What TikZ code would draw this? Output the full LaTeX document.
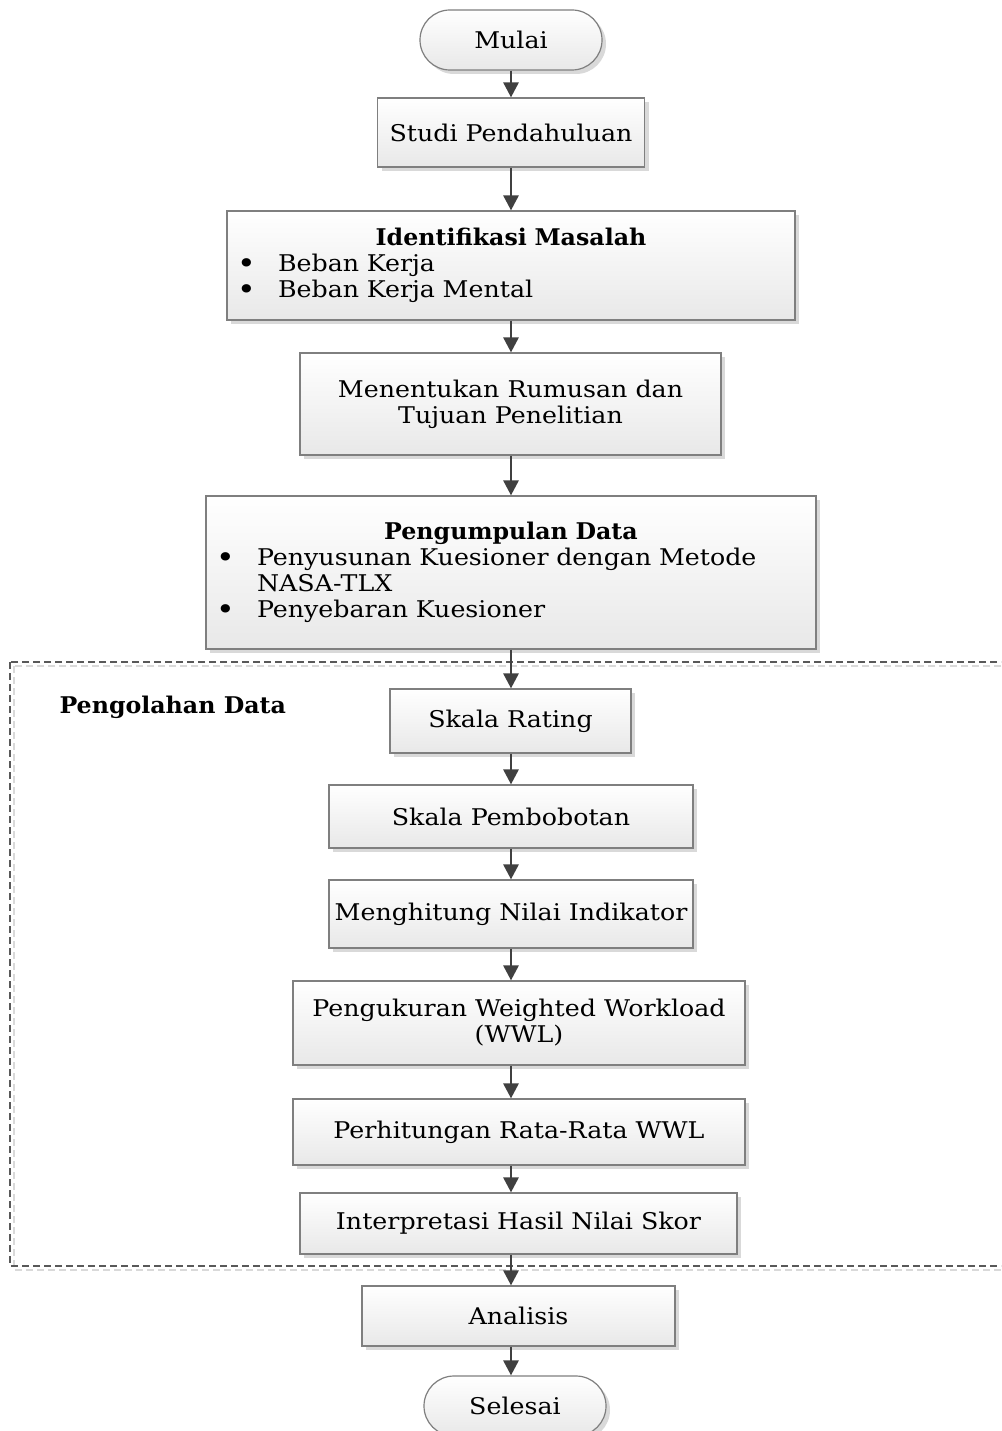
\documentclass[tikz,border=0pt]{standalone}
\usepackage{fontspec}
\setmainfont{DejaVu Serif}[FakeStretch=1.1, BoldFeatures={FakeStretch=1.03}]
\usetikzlibrary{shapes.misc,shadows,arrows.meta}
\newcommand\bulitem{\makebox[41pt][l]{\raisebox{-1.8pt}{\scalebox{1.25}{\textbullet}}}}
\definecolor{linegray}{HTML}{404040}
\definecolor{boxborder}{HTML}{7F7F7F}
\definecolor{shadowgray}{HTML}{D9D9D9}
\tikzset{
  boxbase/.style={draw=boxborder, line width=1.2pt, top color=white, bottom color=black!9,
    drop shadow={shadow xshift=4pt, shadow yshift=-4pt, fill=shadowgray, opacity=1},
    inner sep=0pt, align=center},
  procbox/.style={boxbase, rectangle},
  termbox/.style={boxbase, rounded rectangle},
  arr/.style={draw=linegray, line width=2.8pt, -{Triangle[width=15pt,length=15pt]}},
}
\begin{document}
\begin{tikzpicture}[x=1pt, y=-1pt, font=\fontsize{23}{26}\selectfont]
\useasboundingbox (0,0) rectangle (1001,1431);
\clip (0,0) rectangle (1001,1431);
\fill[white] (0,0) rectangle (1001,1431);
\coordinate (col) at (511,0);
% dashed frame
\draw[shadowgray, dash pattern=on 7pt off 4pt, line width=1.2pt] (14,666) rectangle (1020,1270);
\draw[black!65, dash pattern=on 7pt off 4pt, line width=1.2pt] (10,662) rectangle (1016,1266);
\node[font=\fontsize{23}{26}\selectfont\bfseries, anchor=west] (pengolahan) at (56,707) {Pengolahan Data};

\node[termbox, minimum width=182pt, minimum height=60pt] (mulai) at (511,40) {Mulai};
\node[procbox, minimum width=267pt, minimum height=69pt] (studi) at (511,132.5) {Studi Pendahuluan};
\node[procbox, minimum width=568pt, minimum height=109pt, text width=548pt, align=left, inner xsep=10pt] (ident) at (511,265.5)
  {\makebox[548pt]{\bfseries Identifikasi Masalah}\\ \bulitem Beban Kerja\\ \bulitem Beban Kerja Mental};
\node[procbox, minimum width=421pt, minimum height=102pt] (rumusan) at (510.5,404) {Menentukan Rumusan dan\\Tujuan Penelitian};
\node[procbox, minimum width=610pt, minimum height=153pt, text width=590pt, align=left, inner xsep=10pt] (kumpul) at (511,572.5)
  {\makebox[590pt]{\bfseries Pengumpulan Data}\\ \bulitem Penyusunan Kuesioner dengan Metode\\ \hspace*{41pt}NASA-TLX\\ \bulitem Penyebaran Kuesioner};
\node[procbox, minimum width=241pt, minimum height=64pt] (rating) at (510.5,721) {Skala Rating};
\node[procbox, minimum width=364pt, minimum height=63pt] (bobot) at (511,816.5) {Skala Pembobotan};
\node[procbox, minimum width=364pt, minimum height=68pt] (indikator) at (511,914) {Menghitung Nilai Indikator};
\node[procbox, minimum width=452pt, minimum height=84pt] (wwl) at (519,1023) {Pengukuran Weighted Workload\\(WWL)};
\node[procbox, minimum width=452pt, minimum height=66pt] (rata) at (519,1132) {Perhitungan Rata-Rata WWL};
\node[procbox, minimum width=437pt, minimum height=61pt] (interp) at (518.5,1223.5) {Interpretasi Hasil Nilai Skor};
\node[procbox, minimum width=313pt, minimum height=60pt] (analisis) at (518.5,1316) {Analisis};
\node[termbox, minimum width=182pt, minimum height=60pt] (selesai) at (515,1406) {Selesai};

\draw[arr] (mulai.south -| col) -- (studi.north -| col);
\draw[arr] (studi.south -| col) -- (ident.north -| col);
\draw[arr] (ident.south -| col) -- (rumusan.north -| col);
\draw[arr] (rumusan.south -| col) -- (kumpul.north -| col);
\draw[arr] (kumpul.south -| col) -- (rating.north -| col);
\draw[arr] (rating.south -| col) -- (bobot.north -| col);
\draw[arr] (bobot.south -| col) -- (indikator.north -| col);
\draw[arr] (indikator.south -| col) -- (wwl.north -| col);
\draw[arr] (wwl.south -| col) -- (rata.north -| col);
\draw[arr] (rata.south -| col) -- (interp.north -| col);
\draw[arr] (interp.south -| col) -- (analisis.north -| col);
\draw[arr] (analisis.south -| col) -- (selesai.north -| col);
\end{tikzpicture}
\end{document}
